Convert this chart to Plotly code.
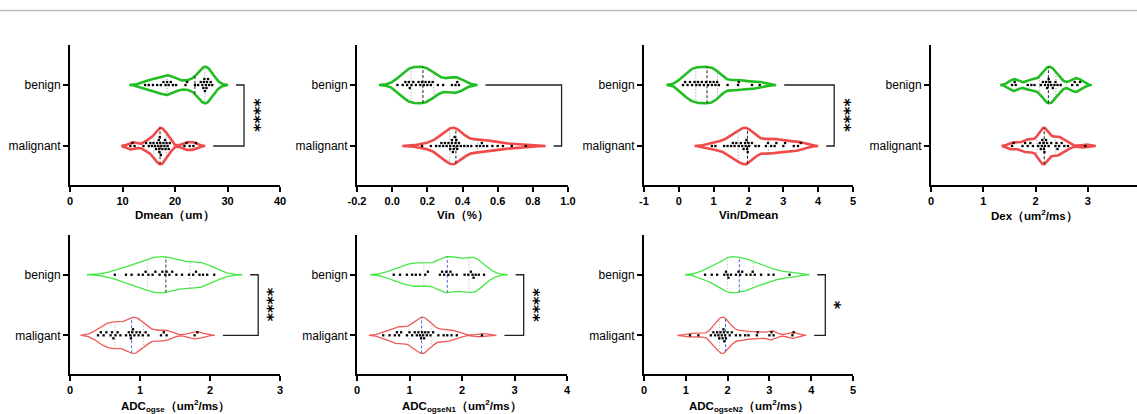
import numpy as np
import plotly.graph_objects as go

W, H = 1137, 414

# ---------------- data ----------------
dmean_malignant = [11.5, 11.9, 12.3, 14.0, 14.5, 15.0, 15.3, 15.6, 15.9, 16.2, 16.4, 16.6, 16.8, 17.0, 17.0, 17.2,
                   17.4, 17.6, 17.8, 18.0, 18.2, 18.4, 18.6, 18.8, 19.0, 16.9, 17.1, 17.3, 18.1, 21.8, 22.2, 22.8,
                   23.5, 24.0]
dmean_benign = [14.3, 15.0, 15.8, 16.6, 17.3, 17.8, 18.2, 18.5, 18.8, 19.2, 19.6, 20.2, 22.0, 22.3, 23.8,
                24.4, 24.9, 25.2, 25.4, 25.5, 25.6, 25.7, 25.9, 26.0, 26.1, 26.3, 26.5, 26.8, 27.1]

vin_malignant = [0.17, 0.22, 0.25, 0.27, 0.28, 0.29, 0.30, 0.31, 0.32, 0.33, 0.33, 0.34, 0.34, 0.345, 0.35, 0.35,
                 0.355, 0.36, 0.365, 0.37, 0.37, 0.38, 0.39, 0.41, 0.43, 0.45, 0.48, 0.50, 0.51, 0.52, 0.54, 0.57,
                 0.60, 0.63, 0.68, 0.76]
vin_benign = [0.03, 0.06, 0.075, 0.085, 0.095, 0.10, 0.11, 0.12, 0.135, 0.15, 0.16, 0.17, 0.18, 0.19, 0.20, 0.21,
              0.22, 0.23, 0.26, 0.29, 0.34, 0.36, 0.37, 0.38]

vind_malignant = [0.95, 1.05, 1.3, 1.4, 1.5, 1.55, 1.6, 1.65, 1.72, 1.78, 1.82, 1.86, 1.9, 1.92, 1.94, 1.96,
                  1.98, 2.0, 2.02, 2.1, 2.2, 2.3, 2.5, 2.56, 2.65, 2.75, 2.8, 3.0, 3.05, 3.3, 3.42, 3.5]
vind_benign = [0.12, 0.18, 0.25, 0.32, 0.38, 0.45, 0.5, 0.55, 0.6, 0.66, 0.72, 0.78, 0.84, 0.9, 0.95, 1.0,
               1.05, 1.1, 1.15, 1.4, 1.7, 1.72, 2.1, 2.32]

dex_malignant = [1.55, 1.58, 1.75, 1.8, 1.85, 1.9, 1.95, 2.05, 2.08, 2.1, 2.12, 2.13, 2.15, 2.16, 2.17, 2.18,
                 2.2, 2.22, 2.25, 2.3, 2.38, 2.4, 2.42, 2.45, 2.5, 2.55, 2.62, 2.95]
dex_benign = [1.55, 1.6, 1.62, 1.85, 1.92, 1.98, 2.1, 2.14, 2.18, 2.2, 2.22, 2.24, 2.25, 2.28, 2.3, 2.33,
              2.36, 2.38, 2.42, 2.48, 2.7, 2.75, 2.8, 2.85]

adc_ogse_malignant = [0.4, 0.44, 0.48, 0.52, 0.58, 0.6, 0.62, 0.65, 0.68, 0.72, 0.8, 0.84, 0.86, 0.87, 0.89, 0.9,
                      0.92, 0.95, 0.98, 1.0, 1.04, 1.08, 1.12, 1.3, 1.34, 1.38, 1.78, 1.82]
adc_ogse_benign = [0.64, 0.8, 0.88, 0.98, 1.04, 1.08, 1.12, 1.18, 1.22, 1.28, 1.32, 1.36, 1.38, 1.42, 1.46, 1.52,
                   1.6, 1.7, 1.76, 1.8, 1.85, 1.9, 1.96, 2.06]

adc_n1_malignant = [0.5, 0.62, 0.72, 0.76, 0.8, 0.84, 0.95, 1.0, 1.05, 1.1, 1.14, 1.17, 1.2, 1.22, 1.24, 1.26,
                    1.28, 1.3, 1.33, 1.36, 1.4, 1.45, 1.55, 1.65, 1.72, 1.8, 1.9, 2.38]
adc_n1_benign = [0.7, 0.82, 0.95, 1.05, 1.12, 1.2, 1.3, 1.35, 1.58, 1.62, 1.66, 1.7, 1.74, 1.78, 1.82, 1.9,
                 2.05, 2.12, 2.17, 2.2, 2.22, 2.26, 2.32, 2.42]

adc_n2_malignant = [1.1, 1.3, 1.6, 1.66, 1.7, 1.75, 1.78, 1.8, 1.83, 1.86, 1.88, 1.9, 1.91, 1.92, 1.94, 1.96,
                    2.0, 2.05, 2.1, 2.2, 2.3, 2.42, 2.5, 2.7, 2.72, 3.0, 3.05, 3.1, 3.55, 3.58]
adc_n2_benign = [1.46, 1.62, 1.75, 1.92, 1.96, 2.0, 2.02, 2.08, 2.2, 2.26, 2.3, 2.35, 2.45, 2.55, 2.6, 2.65,
                 2.8, 2.98, 3.1, 3.48]

axis_titles = ["Dmean（um）", "Vin（%）", "Vin/Dmean", "Dex（um<sup>2</sup>/ms）",
               "ADC<sub>ogse</sub>（um<sup>2</sup>/ms）", "ADC<sub>ogseN1</sub>（um<sup>2</sup>/ms）",
               "ADC<sub>ogseN2</sub>（um<sup>2</sup>/ms）"]
y_tick_labels_top = ["malignant", "benign"]
y_tick_labels_bottom = ["maligant", "benign"]
x_tick_values = [[0, 10, 20, 30, 40], [-0.2, 0.0, 0.2, 0.4, 0.6, 0.8, 1.0], [-1, 0, 1, 2, 3, 4, 5],
                 [0, 1, 2, 3], [0, 1, 2, 3], [0, 1, 2, 3, 4], [0, 1, 2, 3, 4, 5]]
x_tick_labels = [["0", "10", "20", "30", "40"], ["-0.2", "0.0", "0.2", "0.4", "0.6", "0.8", "1.0"],
                 ["-1", "0", "1", "2", "3", "4", "5"], ["0", "1", "2", "3"], ["0", "1", "2", "3"],
                 ["0", "1", "2", "3", "4"], ["0", "1", "2", "3", "4", "5"]]
significance = ["****", "****", "****", "", "****", "****", "*"]

panels_data = [(dmean_malignant, dmean_benign), (vin_malignant, vin_benign), (vind_malignant, vind_benign),
               (dex_malignant, dex_benign), (adc_ogse_malignant, adc_ogse_benign),
               (adc_n1_malignant, adc_n1_benign), (adc_n2_malignant, adc_n2_benign)]

# ---------------- layout / style ----------------
panel_px = [(70, 280, 45, 185), (357, 568, 45, 185), (644, 853, 45, 185), (931, 1137, 45, 185),
            (70, 280, 235, 374), (357, 567, 235, 374), (644, 853, 235, 374)]
x_ranges = [[0, 40], [-0.2, 1.0], [-1, 5], [0, 3.94], [0, 3], [0, 4], [0, 5]]
bandwidths = [(0.7, 1.2), (0.045, 0.042), (0.2, 0.19), (0.08, 0.09), (0.1, 0.16), (0.11, 0.18), (0.12, 0.19)]
Y_RANGE = [-0.639, 1.656]
HALF_W = 0.3
CUT = 2.5
FONT = "Arial, Liberation Sans, sans-serif"

row_style = {
    "top": dict(green="#22bd22", red="#f04a4a", lw=2.6, q="#8a8a8a"),
    "bottom": dict(green="#44e844", red="#ef5a5a", lw=1.3, q="#b0b0b0"),
}
median_colors = [("#222", "#222"), ("#222", "#222"), ("#222", "#222"), ("#222", "#222"),
                 ("#4a6fd0", "#333"), ("#4a6fd0", "#4a6fd0"), ("#4a6fd0", "#4a6fd0")]


def kde_outline(vals, bw):
    v = np.asarray(vals, float)
    g = np.linspace(v.min() - CUT * bw, v.max() + CUT * bw, 400)
    d = np.exp(-0.5 * ((g[:, None] - v[None, :]) / bw) ** 2).sum(1)
    d = np.clip(d - max(d[0], d[-1]), 0, None)
    d = d / d.max()
    return g, d * HALF_W


def swarm(vals, pxu, step):
    xs = np.asarray(vals, float) * pxu
    order = np.argsort(xs, kind="stable")
    placed = []
    offs = np.zeros(len(xs))
    cands = [0]
    for j in range(1, 30):
        cands += [j, -j]
    for i in order:
        yy = 0.0
        for c in cands:
            yy = c * step
            if all((xs[i] - px) ** 2 + (yy - py) ** 2 >= (step ** 2) * 0.98 for px, py in placed):
                break
        placed.append((xs[i], yy))
        offs[i] = yy
    return offs


fig = go.Figure()
layout = dict(width=W, height=H, margin=dict(l=0, r=0, t=0, b=0, autoexpand=False), paper_bgcolor="white",
              plot_bgcolor="white", showlegend=False, font=dict(family=FONT, color="black"))
annotations = []

for i, ((mal, ben), (x0, x1, yt, yb)) in enumerate(zip(panels_data, panel_px)):
    k = "" if i == 0 else str(i + 1)
    xa, ya = "x" + k, "y" + k
    row = "top" if i < 4 else "bottom"
    st = row_style[row]
    r0, r1 = x_ranges[i]
    pxu = (x1 - x0) / (r1 - r0)
    ypx = (yb - yt) / (Y_RANGE[1] - Y_RANGE[0])

    layout["xaxis" + k] = dict(domain=[x0 / W, x1 / W], range=[r0, r1], anchor=ya, automargin=False,
                               showgrid=False, zeroline=False, showline=True, linecolor="black",
                               linewidth=2, ticks="outside", ticklen=5, tickwidth=1.5, tickcolor="black",
                               tickvals=x_tick_values[i], ticktext=x_tick_labels[i],
                               tickfont=dict(size=11, family=FONT, weight="bold"))
    layout["yaxis" + k] = dict(domain=[1 - yb / H, 1 - yt / H], range=Y_RANGE, anchor=xa, automargin=False,
                               showgrid=False, zeroline=False, showline=True, linecolor="black",
                               linewidth=2, ticks="outside", ticklen=5, tickwidth=1.5, tickcolor="black",
                               tickvals=[0, 1],
                               ticktext=y_tick_labels_top if row == "top" else y_tick_labels_bottom,
                               tickfont=dict(size=12, family=FONT))

    ends = []
    for gi, (vals, col) in enumerate([(mal, st["red"]), (ben, st["green"])]):
        y0 = gi
        g, hw = kde_outline(vals, bandwidths[i][gi])
        ends.append(g[-1])
        fig.add_trace(go.Scatter(x=np.concatenate([g, g[::-1]]), y=np.concatenate([y0 + hw, (y0 - hw)[::-1]]),
                                 mode="lines", fill="toself", fillcolor="rgba(255,255,255,0)",
                                 line=dict(color=col, width=st["lw"]), xaxis=xa, yaxis=ya,
                                 hoverinfo="skip"))
        q1, med, q3 = np.percentile(vals, [25, 50, 75])
        for q, dash, c in [(q1, "1px,2px", st["q"]), (q3, "1px,2px", st["q"]),
                           (med, "3px,2px", median_colors[i][gi])]:
            h = np.interp(q, g, hw)
            fig.add_trace(go.Scatter(x=[q, q], y=[y0 - h, y0 + h], mode="lines",
                                     line=dict(color=c, width=1, dash=dash), xaxis=xa, yaxis=ya,
                                     hoverinfo="skip"))
        offs = swarm(vals, pxu, 3.0) / ypx
        fig.add_trace(go.Scatter(x=vals, y=y0 + offs, mode="markers",
                                 marker=dict(size=2.3, color="black", symbol="square"),
                                 xaxis=xa, yaxis=ya))

    # significance bracket
    if significance[i]:
        gap = 8 / pxu
        mstart, bstart = ends[0] + gap, ends[1] + gap
        xv = max(mstart, bstart) + gap
        fig.add_trace(go.Scatter(x=[bstart, xv, xv, mstart], y=[1, 1, 0, 0], mode="lines",
                                 line=dict(color="#222", width=1.3), cliponaxis=False,
                                 xaxis=xa, yaxis=ya, hoverinfo="skip"))
        annotations.append(dict(x=xv + 10 / pxu, y=0.5, xref=xa, yref=ya, text="<b>%s</b>" % significance[i],
                                textangle=90, showarrow=False, xanchor="center", yanchor="middle",
                                font=dict(size=16, family="DejaVu Sans", color="black")))

    # axis title
    ty = (yb + 30) if row == "top" else (yb + 32)
    annotations.append(dict(x=0.5, y=1 - ty / H, xref=xa + " domain", yref="paper",
                            text="<b>%s</b>" % axis_titles[i], showarrow=False,
                            xanchor="center", yanchor="middle", font=dict(size=11.5, family=FONT)))

layout["annotations"] = annotations
layout["shapes"] = [dict(type="line", xref="paper", yref="paper", x0=0, x1=1, y0=1 - 10.5 / H, y1=1 - 10.5 / H,
                         line=dict(color="#bdbdbd", width=1.5))]
fig.update_layout(**layout)
fig.write_html("out.html")
